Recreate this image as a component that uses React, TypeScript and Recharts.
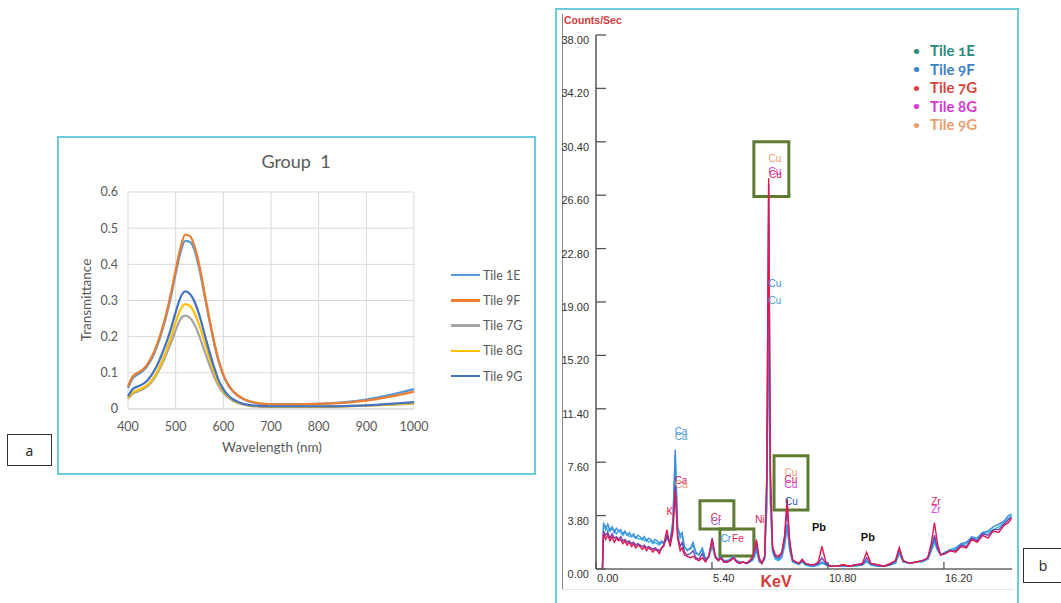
import React from "react";
import {
  CartesianGrid,
  Line,
  LineChart,
  ReferenceArea,
  ReferenceDot,
  XAxis,
  YAxis,
} from "recharts";

// ---- panel a: UV-Vis transmittance ----
const wavelengths = [
  400, 410, 420, 430, 440, 450, 460, 470, 480, 490, 500, 510, 520, 530, 540, 550, 560, 570, 580, 590,
  600, 610, 620, 630, 640, 650, 660, 670, 680, 690, 700, 750, 800, 850, 900, 950, 1000,
];
const trTile1E = [
  0.058, 0.085, 0.095, 0.104, 0.118, 0.14, 0.17, 0.21, 0.255, 0.31, 0.375, 0.432, 0.465, 0.462, 0.437, 0.385, 0.318, 0.25, 0.186, 0.132,
  0.093, 0.066, 0.049, 0.037, 0.029, 0.023, 0.019, 0.016, 0.014, 0.013, 0.013, 0.013, 0.014, 0.018, 0.026, 0.039, 0.055,
];
const trTile9F = [
  0.062, 0.09, 0.1, 0.108, 0.122, 0.145, 0.175, 0.215, 0.262, 0.32, 0.385, 0.445, 0.482, 0.478, 0.448, 0.395, 0.325, 0.255, 0.19, 0.135,
  0.095, 0.068, 0.05, 0.038, 0.03, 0.024, 0.02, 0.017, 0.015, 0.014, 0.013, 0.013, 0.014, 0.017, 0.023, 0.034, 0.048,
];
const trTile7G = [
  0.028, 0.042, 0.048, 0.054, 0.062, 0.075, 0.095, 0.12, 0.15, 0.182, 0.218, 0.248, 0.258, 0.252, 0.232, 0.2, 0.162, 0.125, 0.092, 0.064,
  0.045, 0.032, 0.023, 0.017, 0.013, 0.01, 0.008, 0.007, 0.006, 0.006, 0.006, 0.006, 0.006, 0.007, 0.009, 0.012, 0.015,
];
const trTile8G = [
  0.03, 0.045, 0.052, 0.058, 0.066, 0.08, 0.1, 0.128, 0.16, 0.198, 0.24, 0.275, 0.29, 0.285, 0.264, 0.23, 0.188, 0.145, 0.105, 0.072,
  0.05, 0.035, 0.025, 0.018, 0.014, 0.011, 0.009, 0.008, 0.007, 0.007, 0.006, 0.006, 0.006, 0.007, 0.009, 0.012, 0.016,
];
const trTile9G = [
  0.035, 0.055, 0.062, 0.068, 0.078, 0.095, 0.118, 0.148, 0.182, 0.222, 0.268, 0.308, 0.325, 0.318, 0.295, 0.258, 0.21, 0.162, 0.118, 0.08,
  0.055, 0.038, 0.027, 0.02, 0.015, 0.012, 0.01, 0.009, 0.008, 0.008, 0.007, 0.007, 0.007, 0.008, 0.01, 0.014, 0.019,
];
const wlTicks = [400, 500, 600, 700, 800, 900, 1000];
const trTicks = [0, 0.1, 0.2, 0.3, 0.4, 0.5, 0.6];

const uvSeries = [
  { key: "t1E", name: "Tile 1E", color: "#5b9bd5" },
  { key: "t9F", name: "Tile 9F", color: "#ed7d31" },
  { key: "t7G", name: "Tile 7G", color: "#a5a5a5" },
  { key: "t8G", name: "Tile 8G", color: "#ffc000" },
  { key: "t9G", name: "Tile 9G", color: "#4472c4" },
];

// ---- panel b: EDXRF spectrum ----
const keV = [
  0.3, 0.35, 0.45, 0.55, 0.65, 0.75, 0.85, 0.95, 1.05, 1.15, 1.25, 1.35, 1.45, 1.55, 1.65, 1.75, 1.85, 1.95, 2.05, 2.15,
  2.25, 2.35, 2.45, 2.55, 2.65, 2.75, 2.85, 2.95, 3.05, 3.15,
  3.3, 3.45, 3.58, 3.69, 3.8, 3.92, 4.01, 4.12, 4.25, 4.4, 4.52, 4.65, 4.8, 4.95, 5.1, 5.25, 5.41, 5.55, 5.7, 5.82, 5.95,
  6.1, 6.25, 6.4, 6.55, 6.7, 6.85, 7.0, 7.15, 7.3, 7.47, 7.6, 7.72, 7.85, 7.95, 8.04, 8.12, 8.22, 8.35, 8.5, 8.65,
  8.78, 8.9, 9.02, 9.15, 9.3, 9.45, 9.6, 9.75, 9.95, 10.15, 10.35, 10.52, 10.7, 10.9, 11.2, 11.5, 11.8, 12.1, 12.4, 12.6,
  12.8, 13.1, 13.4, 13.7, 13.95, 14.12, 14.3, 14.6, 14.9, 15.2, 15.45, 15.62, 15.76, 15.9, 16.05, 16.25, 16.5, 16.75, 17.0, 17.25,
  17.5, 17.75, 18.0, 18.25, 18.5, 18.75, 19.0, 19.2, 19.35,
];
const cpsTile1E = [
  0, 3.0, 3.1, 2.7, 2.9, 2.8, 2.8, 2.5, 2.7, 2.6, 2.4, 2.6, 2.5, 2.3, 2.4, 2.3, 2.2, 2.2, 2.1, 2.2,
  2.0, 2.1, 1.9, 2.0, 1.8, 1.9, 1.8, 1.7, 1.9, 1.8,
  2.1, 1.9, 3.2, 8.1, 2.8, 2.2, 2.4, 1.5, 1.4, 1.4, 1.7, 1.1, 1.0, 1.4, 0.7, 0.8, 1.6, 0.8, 0.6, 0.8, 0.6,
  0.5, 0.6, 0.8, 0.5, 0.4, 0.5, 0.4, 0.5, 0.6, 1.3, 0.5, 0.4, 0.7, 4.2, 18.0, 4.6, 1.2, 0.7, 0.6, 0.8,
  1.6, 3.0, 1.3, 0.5, 0.4, 0.3, 0.5, 0.3, 0.2, 0.2, 0.3, 0.4, 0.3, 0.2, 0.2, 0.2, 0.2, 0.2, 0.3, 0.5,
  0.3, 0.2, 0.2, 0.3, 0.4, 1.1, 0.5, 0.4, 0.5, 0.5, 0.7, 1.3, 1.9, 1.3, 1.0, 1.1, 1.3, 1.4, 1.7, 1.8,
  2.2, 2.1, 2.5, 2.6, 2.8, 3.0, 3.3, 3.6, 3.8,
];
const cpsTile9F = [
  0, 3.3, 2.8, 3.2, 2.7, 3.0, 2.6, 2.9, 2.7, 2.8, 2.5, 2.7, 2.4, 2.6, 2.3, 2.5, 2.2, 2.4, 2.3, 2.1,
  2.3, 2.0, 2.2, 2.1, 1.9, 2.1, 2.0, 1.8, 2.0, 1.9,
  2.2, 2.0, 3.5, 8.5, 3.0, 2.4, 2.6, 1.6, 1.3, 1.5, 1.9, 1.2, 1.0, 1.5, 0.7, 0.9, 1.8, 0.9, 0.7, 0.9, 0.6,
  0.6, 0.7, 0.9, 0.6, 0.5, 0.5, 0.4, 0.5, 0.7, 1.5, 0.6, 0.4, 0.8, 4.5, 18.6, 5.0, 1.3, 0.8, 0.7, 0.9,
  1.8, 3.2, 1.4, 0.6, 0.4, 0.4, 0.6, 0.3, 0.3, 0.2, 0.3, 0.5, 0.3, 0.2, 0.2, 0.2, 0.2, 0.3, 0.3, 0.6,
  0.3, 0.2, 0.2, 0.3, 0.5, 1.2, 0.5, 0.4, 0.5, 0.6, 0.7, 1.4, 2.1, 1.4, 1.0, 1.2, 1.4, 1.5, 1.8, 1.9,
  2.3, 2.2, 2.6, 2.7, 3.0, 3.2, 3.4, 3.8, 3.9,
];
const cpsTile7G = [
  0, 2.5, 2.1, 2.4, 2.0, 2.3, 1.9, 2.2, 2.0, 2.1, 1.8, 2.0, 1.7, 1.9, 1.6, 1.8, 1.5, 1.7, 1.6, 1.4,
  1.6, 1.3, 1.5, 1.4, 1.2, 1.4, 1.3, 1.1, 1.5, 1.7,
  2.8, 1.6, 2.6, 5.6, 2.2, 1.3, 1.5, 1.0, 0.9, 0.8, 0.9, 0.7, 0.6, 0.8, 0.5, 0.9, 2.1, 0.9, 0.6, 0.8, 0.5,
  0.5, 0.6, 0.8, 0.5, 0.4, 0.5, 0.4, 0.6, 0.9, 2.1, 0.8, 0.4, 0.9, 6.5, 27.8, 7.0, 1.6, 1.0, 0.9, 1.2,
  2.4, 5.0, 2.0, 0.7, 0.5, 0.4, 0.7, 0.4, 0.3, 0.3, 0.5, 1.6, 0.5, 0.2, 0.2, 0.3, 0.2, 0.3, 0.4, 1.2,
  0.4, 0.3, 0.2, 0.4, 0.6, 1.5, 0.6, 0.4, 0.5, 0.6, 0.8, 1.9, 3.3, 1.8, 1.0, 1.1, 1.3, 1.2, 1.6, 1.5,
  2.1, 1.9, 2.4, 2.2, 2.7, 2.6, 3.1, 3.3, 3.6,
];
const cpsTile8G = [
  0, 2.7, 2.4, 2.6, 2.2, 2.5, 2.2, 2.3, 2.1, 2.3, 2.0, 2.1, 1.9, 2.0, 1.8, 1.9, 1.7, 1.8, 1.7, 1.6,
  1.7, 1.5, 1.6, 1.5, 1.4, 1.5, 1.4, 1.3, 1.5, 1.6,
  2.4, 1.8, 2.9, 6.0, 2.4, 1.6, 1.9, 1.2, 1.0, 1.1, 1.3, 0.8, 0.7, 1.1, 0.6, 0.9, 2.2, 0.9, 0.6, 0.8, 0.5,
  0.5, 0.6, 0.8, 0.5, 0.4, 0.5, 0.4, 0.5, 0.8, 1.8, 0.7, 0.4, 0.8, 6.2, 27.4, 6.6, 1.5, 0.9, 0.8, 1.1,
  2.2, 4.3, 1.8, 0.6, 0.5, 0.4, 0.6, 0.4, 0.3, 0.3, 0.4, 0.8, 0.4, 0.2, 0.2, 0.3, 0.2, 0.3, 0.3, 0.8,
  0.4, 0.3, 0.2, 0.3, 0.6, 1.5, 0.6, 0.4, 0.5, 0.6, 0.8, 1.6, 2.4, 1.5, 1.0, 1.1, 1.3, 1.3, 1.7, 1.6,
  2.2, 2.0, 2.5, 2.4, 2.8, 2.8, 3.2, 3.5, 3.7,
];
const keVTicks = [0, 5.4, 10.8, 16.2];
const cpsTicks = [0, 3.8, 7.6, 11.4, 15.2, 19, 22.8, 26.6, 30.4, 34.2, 38];

const edxLegend = [
  { name: "Tile 1E", color: "#2b8a7e" },
  { name: "Tile 9F", color: "#3c82c8" },
  { name: "Tile 7G", color: "#d6453d" },
  { name: "Tile 8G", color: "#d23ad2" },
  { name: "Tile 9G", color: "#e8a070" },
];

const peakLabels = [
  { el: "Cu", k: 8.33, c: 29.2, color: "#e8a070" },
  { el: "Cu", k: 8.33, c: 28.3, color: "#d23ad2" },
  { el: "Cu", k: 8.35, c: 28.1, color: "#e4164f" },
  { el: "Cu", k: 8.33, c: 20.3, color: "#3c8ede" },
  { el: "Cu", k: 8.33, c: 19.1, color: "#4aa0c8" },
  { el: "Ca", k: 3.96, c: 9.8, color: "#3c8ede" },
  { el: "Ca", k: 3.96, c: 9.4, color: "#4aa0c8" },
  { el: "Ca", k: 3.96, c: 6.3, color: "#e4164f" },
  { el: "Ca", k: 3.98, c: 6.0, color: "#e8a070" },
  { el: "K", k: 3.44, c: 4.1, color: "#e4164f" },
  { el: "Cr", k: 5.59, c: 3.65, color: "#e4164f" },
  { el: "Cr", k: 5.59, c: 3.35, color: "#8a5ad0" },
  { el: "Cr", k: 6.05, c: 2.14, color: "#3c8ede" },
  { el: "Fe", k: 6.61, c: 2.14, color: "#e4164f" },
  { el: "Ni", k: 7.63, c: 3.5, color: "#e4164f" },
  { el: "Cu", k: 9.08, c: 6.9, color: "#e8a070" },
  { el: "Cu", k: 9.08, c: 6.35, color: "#e4164f" },
  { el: "Cu", k: 9.08, c: 6.0, color: "#d23ad2" },
  { el: "Cu", k: 9.1, c: 4.78, color: "#2a5aa8" },
  { el: "Zr", k: 15.83, c: 4.78, color: "#e4164f" },
  { el: "Zr", k: 15.83, c: 4.2, color: "#d23ad2" },
];
const leadLabels = [
  { el: "Pb", k: 10.38, c: 3.0 },
  { el: "Pb", k: 12.66, c: 2.28 },
];
const markBoxes = [
  { x1: 7.35, x2: 8.98, y1: 26.5, y2: 30.4 },
  { x1: 8.29, x2: 9.87, y1: 4.2, y2: 8.06 },
  { x1: 4.84, x2: 6.42, y1: 2.85, y2: 4.85 },
  { x1: 5.77, x2: 7.35, y1: 0.93, y2: 2.85 },
];

const uvData = wavelengths.map((w, i) => ({
  w,
  t1E: trTile1E[i],
  t9F: trTile9F[i],
  t7G: trTile7G[i],
  t8G: trTile8G[i],
  t9G: trTile9G[i],
}));

const edxData = keV.map((k, i) => ({
  k,
  e1E: cpsTile1E[i],
  e9F: cpsTile9F[i],
  e7G: cpsTile7G[i],
  e8G: cpsTile8G[i],
}));

const excelFont = "Lato, 'Open Sans', sans-serif";
const edxFont = "'Liberation Sans', Arial, sans-serif";

function CpsTick(props: any) {
  const { x, y, payload } = props;
  return (
    <g>
      <line x1={x + 7} x2={x + 17} y1={y} y2={y} stroke="#555" strokeWidth={1.3} />
      <text x={x} y={y + 5} textAnchor="end" dominantBaseline="central" fontSize={11} fill="#333" fontFamily={edxFont}>
        {Number(payload.value).toFixed(2)}
      </text>
    </g>
  );
}

function KeVTick(props: any) {
  const { x, y, payload } = props;
  return (
    <g>
      <line x1={x} x2={x} y1={y - 7} y2={y} stroke="#555" strokeWidth={1.3} />
      <text x={x + 1} y={y + 9} textAnchor="start" dominantBaseline="central" fontSize={11} fill="#333" fontFamily={edxFont}>
        {Number(payload.value).toFixed(2)}
      </text>
    </g>
  );
}

function textShape(text: string, color: string, size: number, bold = false) {
  return (p: any) => (
    <text
      x={p.cx}
      y={p.cy}
      fill={color}
      fontSize={size}
      fontWeight={bold ? 700 : 400}
      fontFamily={edxFont}
      textAnchor="middle"
      dominantBaseline="central"
    >
      {text}
    </text>
  );
}

function TransmittancePanel() {
  return (
    <>
      <div
        style={{
          position: "absolute",
          left: 57,
          top: 136,
          width: 479,
          height: 339,
          border: "2px solid #6ccadf",
          boxSizing: "border-box",
        }}
      />
      <div style={{ position: "absolute", left: 57, top: 136 }}>
        <LineChart width={478} height={338} data={uvData} margin={{ top: 56, right: 121, bottom: 40, left: 31 }}>
          <CartesianGrid stroke="#d9d9d9" />
          <XAxis
            dataKey="w"
            type="number"
            domain={[400, 1000]}
            ticks={wlTicks}
            interval={0}
            height={25}
            axisLine={{ stroke: "#d9d9d9" }}
            tickLine={false}
            tickSize={0}
            tickMargin={13}
            tick={{ fill: "#595959", fontSize: 12.5, fontFamily: excelFont }}
          />
          <YAxis
            type="number"
            domain={[0, 0.6]}
            ticks={trTicks}
            interval={0}
            width={40}
            axisLine={false}
            tickLine={false}
            tickSize={0}
            tickMargin={10}
            tick={{ fill: "#595959", fontSize: 12.5, fontFamily: excelFont }}
          />
          {uvSeries.map((s) => (
            <Line
              key={s.key}
              dataKey={s.key}
              type="monotone"
              stroke={s.color}
              strokeWidth={2.25}
              dot={false}
              isAnimationActive={false}
            />
          ))}
        </LineChart>
      </div>
      <div
        style={{
          position: "absolute",
          left: 196,
          top: 150,
          width: 200,
          textAlign: "center",
          fontFamily: excelFont,
          fontSize: 18,
          color: "#595959",
          whiteSpace: "pre",
        }}
      >
        {"Group  1"}
      </div>
      <div
        style={{
          position: "absolute",
          left: 172,
          top: 439,
          width: 200,
          textAlign: "center",
          fontFamily: excelFont,
          fontSize: 13.5,
          color: "#595959",
        }}
      >
        Wavelength (nm)
      </div>
      <div
        style={{
          position: "absolute",
          left: 36,
          top: 292,
          width: 100,
          textAlign: "center",
          fontFamily: excelFont,
          fontSize: 13.5,
          color: "#595959",
          transform: "rotate(-90deg)",
        }}
      >
        Transmittance
      </div>
      {uvSeries.map((s, i) => (
        <div
          key={s.key}
          style={{
            position: "absolute",
            left: 451,
            top: 266 + i * 25.3,
            height: 18,
            display: "flex",
            alignItems: "center",
            fontFamily: excelFont,
            fontSize: 12.5,
            color: "#595959",
          }}
        >
          <span style={{ display: "inline-block", width: 29, height: 2.5, background: s.color, marginRight: 3 }} />
          {s.name}
        </div>
      ))}
      <div
        style={{
          position: "absolute",
          left: 7,
          top: 434,
          width: 45,
          height: 32,
          border: "1.5px solid #333",
          boxSizing: "border-box",
          display: "flex",
          alignItems: "center",
          justifyContent: "center",
          fontFamily: "'Open Sans', sans-serif",
          fontSize: 14,
          color: "#222",
        }}
      >
        a
      </div>
    </>
  );
}

function SpectrumPanel() {
  return (
    <>
      <div
        style={{
          position: "absolute",
          left: 555,
          top: 8,
          width: 464,
          height: 610,
          border: "2px solid #6ccadf",
          boxSizing: "border-box",
        }}
      />
      <div style={{ position: "absolute", left: 562, top: 14, width: 1, height: 576, background: "#888" }} />
      <div style={{ position: "absolute", left: 562, top: 589, width: 452, height: 1, background: "#e4e4e4" }} />
      <div
        style={{
          position: "absolute",
          left: 564,
          top: 14,
          fontFamily: edxFont,
          fontSize: 10.5,
          fontWeight: 700,
          color: "#d43a3a",
        }}
      >
        Counts/Sec
      </div>
      <div style={{ position: "absolute", left: 555, top: 8 }}>
        <LineChart width={464} height={595} data={edxData} margin={{ top: 27, right: 7, bottom: 14, left: 5 }}>
          <XAxis
            dataKey="k"
            type="number"
            domain={[0, 19.37]}
            ticks={keVTicks}
            interval={0}
            height={20}
            axisLine={{ stroke: "#666", strokeWidth: 1.5 }}
            tickLine={false}
            tickSize={0}
            tickMargin={0}
            tick={<KeVTick />}
          />
          <YAxis
            type="number"
            domain={[0, 38]}
            ticks={cpsTicks}
            interval={0}
            width={36}
            axisLine={{ stroke: "#555", strokeWidth: 1.5 }}
            tickLine={false}
            tickSize={0}
            tickMargin={7}
            tick={<CpsTick />}
          />
          <Line dataKey="e1E" type="linear" stroke="#38b4e6" strokeWidth={1.4} dot={false} isAnimationActive={false} />
          <Line dataKey="e9F" type="linear" stroke="#3c8ede" strokeWidth={1.4} dot={false} isAnimationActive={false} />
          <Line dataKey="e8G" type="linear" stroke="#6a44b8" strokeWidth={1.4} dot={false} isAnimationActive={false} />
          <Line dataKey="e7G" type="linear" stroke="#e4164f" strokeWidth={1.4} dot={false} isAnimationActive={false} />
          {markBoxes.map((b, i) => (
            <ReferenceArea
              key={i}
              x1={b.x1}
              x2={b.x2}
              y1={b.y1}
              y2={b.y2}
              fill="none"
              stroke="#5e7b33"
              strokeWidth={3}
              ifOverflow="visible"
            />
          ))}
          {peakLabels.map((p, i) => (
            <ReferenceDot key={i} x={p.k} y={p.c} r={1} shape={textShape(p.el, p.color, 10)} ifOverflow="visible" />
          ))}
          {leadLabels.map((p, i) => (
            <ReferenceDot key={"pb" + i} x={p.k} y={p.c} r={1} shape={textShape(p.el, "#111", 11, true)} ifOverflow="visible" />
          ))}
        </LineChart>
      </div>
      <div
        style={{
          position: "absolute",
          left: 756,
          top: 573,
          width: 40,
          textAlign: "center",
          fontFamily: edxFont,
          fontSize: 16,
          fontWeight: 700,
          color: "#d43a3a",
        }}
      >
        KeV
      </div>
      {edxLegend.map((s, i) => (
        <div
          key={s.name}
          style={{
            position: "absolute",
            left: 913,
            top: 40 + i * 18.5,
            height: 20,
            display: "flex",
            alignItems: "center",
            fontFamily: excelFont,
            fontSize: 15,
            fontWeight: 700,
            color: s.color,
            fontVariantNumeric: "oldstyle-nums",
          }}
        >
          <span style={{ width: 17, fontSize: 12 }}>•</span>
          {s.name}
        </div>
      ))}
      <div
        style={{
          position: "absolute",
          left: 1023,
          top: 548,
          width: 40,
          height: 35,
          border: "1.5px solid #333",
          boxSizing: "border-box",
          display: "flex",
          alignItems: "center",
          justifyContent: "center",
          fontFamily: "'Open Sans', sans-serif",
          fontSize: 14,
          color: "#222",
        }}
      >
        b
      </div>
    </>
  );
}

export default function App() {
  return (
    <div
      style={{
        position: "absolute",
        left: 0,
        top: 0,
        width: 1061,
        height: 603,
        overflow: "hidden",
        background: "#fff",
      }}
    >
      <TransmittancePanel />
      <SpectrumPanel />
    </div>
  );
}
